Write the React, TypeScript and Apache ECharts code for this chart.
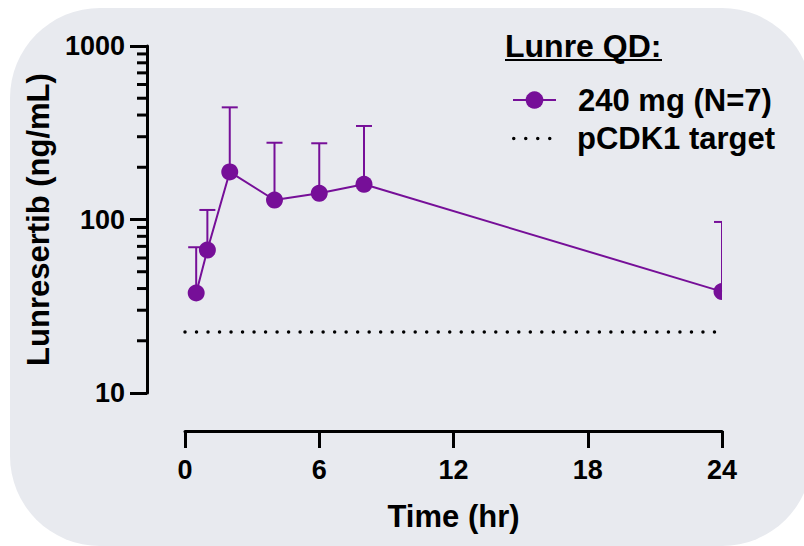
import React, { useEffect, useRef } from "react";
import * as echarts from "echarts";

// ---- data ----
const timeHr = [0.5, 1, 2, 4, 6, 8, 24];
const meanConc = [37.7, 66.7, 188, 129.5, 141.6, 159.6, 38.4];
const upperConc = [69.2, 113.5, 443, 277, 275, 346, 96.8];
const targetConc = 22.5;
const targetSpan = [0, 24];
const xTicks = [0, 6, 12, 18, 24];
const yRange = [10, 1000];
const yMinorTicks = [20, 30, 40, 50, 60, 70, 80, 90, 200, 300, 400, 500, 600, 700, 800, 900];
const seriesName = "240 mg (N=7)";
const targetName = "pCDK1 target";
const legendTitle = "Lunre QD:";
const xName = "Time (hr)";
const yName = "Lunresertib (ng/mL)";

const PURPLE = "#760F98";
const FONT = "'Liberation Sans', Arial, Helvetica, sans-serif";
const AXIS_OFFSET = 38;

const dotPath =
  "path://M0,1.75a1.75,1.75 0 1,0 3.5,0a1.75,1.75 0 1,0 -3.5,0" +
  "M12,1.75a1.75,1.75 0 1,0 3.5,0a1.75,1.75 0 1,0 -3.5,0" +
  "M24,1.75a1.75,1.75 0 1,0 3.5,0a1.75,1.75 0 1,0 -3.5,0" +
  "M36,1.75a1.75,1.75 0 1,0 3.5,0a1.75,1.75 0 1,0 -3.5,0";

export default function App() {
  const ref = useRef<HTMLDivElement>(null);
  useEffect(() => {
    if (!ref.current) return;
    const chart = echarts.init(ref.current, undefined, { renderer: "svg" });
    const textBase = { fontFamily: FONT, fontWeight: "bold" as const, color: "#000" };
    const option: any = {
      animation: false,
      backgroundColor: "#ffffff",
      grid: { left: 185, right: 82, top: 46, bottom: 153, containLabel: false },
      title: {
        text: legendTitle,
        left: 505,
        top: 30,
        padding: 0,
        textStyle: { ...textBase, fontSize: 32 },
      },
      graphic: [
        {
          type: "rect",
          z: -100,
          silent: true,
          shape: { x: 10, y: 8, width: 802, height: 538, r: 90 },
          style: { fill: "#E8EAEF" },
        },
        {
          type: "line",
          silent: true,
          shape: { x1: 505, y1: 60, x2: 662, y2: 60 },
          style: { stroke: "#000", lineWidth: 2 },
        },
      ],
      legend: [
        {
          data: [seriesName],
          left: 512,
          top: 84.5,
          padding: 0,
          itemWidth: 43,
          itemHeight: 22,
          selectedMode: false,
          textStyle: { ...textBase, fontSize: 31, padding: [0, 0, 0, 17] },
        },
        {
          data: [{ name: targetName, icon: dotPath }],
          left: 512,
          top: 123,
          padding: 0,
          itemWidth: 39.5,
          itemHeight: 3.5,
          selectedMode: false,
          itemStyle: { color: "#000", borderWidth: 0 },
          textStyle: { ...textBase, fontSize: 31, padding: [0, 0, 13, 20.5] },
        },
      ],
      xAxis: {
        type: "value",
        min: xTicks[0],
        max: xTicks[xTicks.length - 1],
        interval: 6,
        offset: AXIS_OFFSET,
        name: xName,
        nameLocation: "middle",
        nameGap: 69.5,
        nameTextStyle: { ...textBase, fontSize: 31 },
        axisLine: { onZero: false, lineStyle: { color: "#000", width: 3 } },
        axisTick: { length: 17, lineStyle: { color: "#000", width: 3 } },
        axisLabel: { ...textBase, fontSize: 27, margin: 25.5 },
        splitLine: { show: false },
      },
      yAxis: {
        type: "log",
        logBase: 10,
        min: yRange[0],
        max: yRange[1],
        offset: AXIS_OFFSET,
        name: yName,
        nameLocation: "middle",
        nameGap: 91.5,
        nameTextStyle: { ...textBase, fontSize: 31 },
        axisLine: { onZero: false, lineStyle: { color: "#000", width: 3 } },
        axisTick: { length: 17, lineStyle: { color: "#000", width: 3 } },
        axisLabel: {
          ...textBase,
          fontSize: 27,
          margin: 22,
          formatter: (v: number) => String(Math.round(v)),
        },
        splitLine: { show: false },
      },
      series: [
        {
          name: "yMinorTicks",
          type: "custom",
          coordinateSystem: "cartesian2d",
          clip: false,
          silent: true,
          z: 1,
          data: yMinorTicks.map((v) => [xTicks[0], v]),
          renderItem: (_p: any, api: any) => {
            const p = api.coord([api.value(0), api.value(1)]);
            const ax = p[0] - AXIS_OFFSET;
            return {
              type: "line",
              shape: { x1: ax - 10, y1: p[1], x2: ax, y2: p[1] },
              style: { stroke: "#000", lineWidth: 3 },
            };
          },
        },
        {
          name: targetName,
          type: "line",
          color: "#000",
          symbol: "none",
          silent: true,
          z: 2,
          data: targetSpan.map((t) => [t, targetConc]),
          lineStyle: { color: "#000", width: 3.5, type: [0.01, 11.5], cap: "round" },
        },
        {
          name: seriesName,
          type: "line",
          color: PURPLE,
          symbol: "none",
          silent: true,
          z: 3,
          clip: true,
          data: timeHr.map((t, i) => [t, meanConc[i]]),
          lineStyle: { color: PURPLE, width: 2 },
        },
        {
          name: "errorbars",
          type: "custom",
          coordinateSystem: "cartesian2d",
          clip: true,
          silent: true,
          z: 4,
          data: timeHr.map((t, i) => [t, meanConc[i], upperConc[i]]),
          renderItem: (_p: any, api: any) => {
            const base = api.coord([api.value(0), api.value(1)]);
            const top = api.coord([api.value(0), api.value(2)]);
            const cap = 8;
            return {
              type: "group",
              children: [
                {
                  type: "line",
                  shape: { x1: base[0], y1: base[1], x2: top[0], y2: top[1] },
                  style: { stroke: PURPLE, lineWidth: 2 },
                },
                {
                  type: "line",
                  shape: { x1: top[0] - cap, y1: top[1], x2: top[0] + cap, y2: top[1] },
                  style: { stroke: PURPLE, lineWidth: 2 },
                },
                {
                  type: "circle",
                  shape: { cx: base[0], cy: base[1], r: 8.5 },
                  style: { fill: PURPLE },
                },
              ],
            };
          },
        },
      ],
    };
    chart.setOption(option);
    return () => chart.dispose();
  }, []);
  return (
    <div
      ref={ref}
      style={{ position: "fixed", left: 0, top: 0, width: 804, height: 546 }}
    />
  );
}
